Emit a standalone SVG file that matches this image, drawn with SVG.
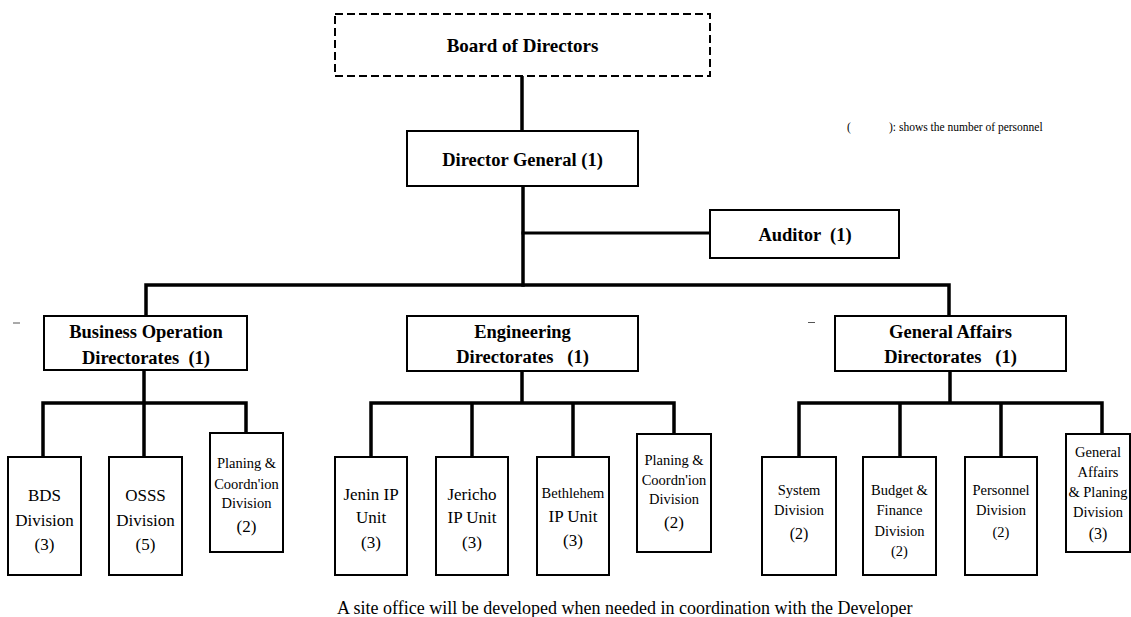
<svg xmlns="http://www.w3.org/2000/svg" width="1131" height="617" viewBox="0 0 1131 617">
<style>
.box{fill:#fff;stroke:#000;stroke-width:2}
.dash{fill:#fff;stroke:#000;stroke-width:2;stroke-dasharray:8 4}
.ln{fill:none;stroke:#000;stroke-width:3.5;stroke-linecap:square}
.b{font-family:"Liberation Serif","Times New Roman",serif;font-weight:bold;font-size:18.5px;text-anchor:middle;fill:#000;white-space:pre}
.r{font-family:"Liberation Serif","Times New Roman",serif;font-size:17px;text-anchor:middle;fill:#000;white-space:pre}
.s{font-family:"Liberation Serif","Times New Roman",serif;font-size:14.5px;text-anchor:middle;fill:#000;white-space:pre}
.n{font-family:"Liberation Serif","Times New Roman",serif;font-size:16px;text-anchor:middle;fill:#000}
.note{font-family:"Liberation Serif","Times New Roman",serif;font-size:11.5px;fill:#000;white-space:pre}
.foot{font-family:"Liberation Serif","Times New Roman",serif;font-size:18px;fill:#000}
</style>
<g id="connectors">
<path class="ln" d="M522 76V131"/>
<path class="ln" d="M523 186V285"/>
<path class="ln" d="M523 233H710" style="stroke-width:3"/>
<path class="ln" d="M146 316V285H949V316"/>
<path class="ln" d="M144 370V457M43 457V403H246V433"/>
<path class="ln" d="M522 371V403M371 457V403H674V433M472 403V457M573 403V457"/>
<path class="ln" d="M950 371V403M799 457V403H1102V434M900 403V457M1001 403V457"/>
</g>
<g id="board"><rect class="dash" x="335" y="14" width="375" height="62"/><text class="b" x="522.5" y="52" style="font-size:19px">Board of Directors</text></g>
<g id="dg"><rect class="box" x="407" y="131" width="231" height="55"/><text class="b" x="522.5" y="166">Director General (1)</text></g>
<g id="auditor"><rect class="box" x="710" y="210" width="189" height="48"/><text class="b" x="805" y="241">Auditor  (1)</text></g>
<g id="note"><text class="note" x="847" y="131">(<tspan x="889">): shows the number of personnel</tspan></text></g>
<g id="marks"><path d="M13 323H20M808 322.5H815" stroke="#555" stroke-width="1"/></g>
<g id="business"><rect class="box" x="44" y="316" width="203" height="54"/><text class="b" x="146" y="338">Business Operation</text><text class="b" x="146" y="364">Directorates  (1)</text></g>
<g id="engineering"><rect class="box" x="407" y="316" width="231" height="55"/><text class="b" x="522.5" y="338">Engineering</text><text class="b" x="522.5" y="363">Directorates   (1)</text></g>
<g id="general"><rect class="box" x="835" y="316" width="231" height="55"/><text class="b" x="950.5" y="338">General Affairs</text><text class="b" x="950.5" y="363">Directorates   (1)</text></g>
<g id="bds"><rect class="box" x="8" y="457" width="73" height="118"/><text class="r" x="44.5" y="501">BDS</text><text class="r" x="44.5" y="526">Division</text><text class="r" x="44.5" y="550">(3)</text></g>
<g id="osss"><rect class="box" x="109" y="457" width="73" height="118"/><text class="r" x="145.5" y="501">OSSS</text><text class="r" x="145.5" y="526">Division</text><text class="r" x="145.5" y="550">(5)</text></g>
<g id="plan1"><rect class="box" x="210" y="433" width="73" height="119"/><text class="s" x="246.5" y="468">Planing &amp;</text><text class="s" x="246.5" y="489">Coordn'ion</text><text class="s" x="246.5" y="508">Division</text><text class="r" x="246.5" y="532">(2)</text></g>
<g id="jenin"><rect class="box" x="335" y="457" width="72" height="118"/><text class="r" x="371" y="500">Jenin IP</text><text class="r" x="371" y="523">Unit</text><text class="r" x="371" y="548">(3)</text></g>
<g id="jericho"><rect class="box" x="436" y="457" width="72" height="118"/><text class="r" x="472" y="500">Jericho</text><text class="r" x="472" y="523">IP Unit</text><text class="r" x="472" y="548">(3)</text></g>
<g id="bethlehem"><rect class="box" x="537" y="457" width="72" height="118"/><text class="s" x="573" y="498">Bethlehem</text><text class="r" x="573" y="522">IP Unit</text><text class="r" x="573" y="546">(3)</text></g>
<g id="plan2"><rect class="box" x="637" y="434" width="74" height="118"/><text class="s" x="674" y="465">Planing &amp;</text><text class="s" x="674" y="485">Coordn'ion</text><text class="s" x="674" y="504">Division</text><text class="r" x="674" y="528">(2)</text></g>
<g id="system"><rect class="box" x="762" y="457" width="74" height="118"/><text class="s" x="799" y="495">System</text><text class="s" x="799" y="515">Division</text><text class="n" x="799" y="539">(2)</text></g>
<g id="budget"><rect class="box" x="863" y="457" width="73" height="118"/><text class="s" x="899.5" y="495">Budget &amp;</text><text class="s" x="899.5" y="515">Finance</text><text class="s" x="899.5" y="536">Division</text><text class="s" x="899.5" y="556">(2)</text></g>
<g id="personnel"><rect class="box" x="965" y="457" width="72" height="118"/><text class="s" x="1001" y="495">Personnel</text><text class="s" x="1001" y="515">Division</text><text class="s" x="1001" y="537">(2)</text></g>
<g id="gaplan"><rect class="box" x="1066" y="434" width="64" height="118"/><text class="s" x="1098" y="457">General</text><text class="s" x="1098" y="477">Affairs</text><text class="s" x="1098" y="497">&amp; Planing</text><text class="s" x="1098" y="517">Division</text><text class="n" x="1098" y="539">(3)</text></g>
<g id="footer"><text class="foot" x="337" y="614">A site office will be developed when needed in coordination with the Developer</text></g>
</svg>
